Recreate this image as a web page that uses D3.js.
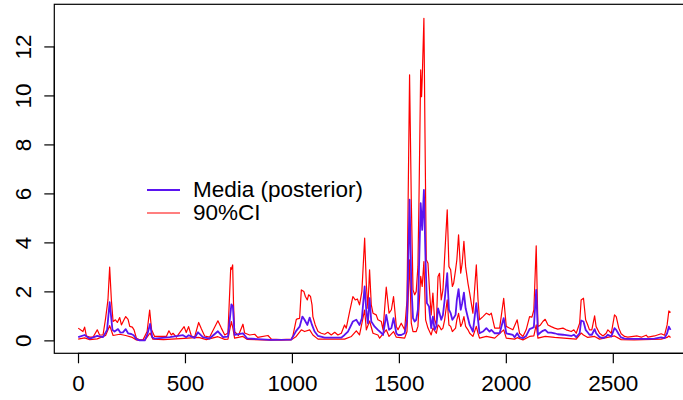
<!DOCTYPE html>
<html>
<head>
<meta charset="utf-8">
<script src="https://cdn.jsdelivr.net/npm/d3@7"></script>
<style>
  html, body { margin: 0; padding: 0; background: #fff; }
  svg text { font-family: "Liberation Sans", Arial, sans-serif; fill: #000; }
</style>
</head>
<body>
<div id="chart"></div>
<script>
// Posterior median with 90% credible band.
// Each series is a list of [index, value] knots.

const median = [
  [1,0.13],[31,0.22],[55,0.07],[90,0.18],[117,0.13],[136,0.43],[148,1.56],[161,0.43],
  [171,0.36],[187,0.46],[198,0.32],[210,0.33],[223,0.46],[234,0.29],[249,0.26],[260,0.21],
  [273,0.05],[288,0.0],[312,0.0],[323,0.21],[337,0.67],[347,0.13],[358,0.075],[429,0.13],
  [491,0.21],[506,0.13],[517,0.21],[545,0.1],[561,0.33],[584,0.13],[615,0.075],[654,0.37],
  [678,0.13],[701,0.15],[717,1.47],[724,1.38],[732,0.22],[771,0.29],[790,0.08],[840,0.05],
  [900,0.02],[997,0.03],[1020,0.39],[1036,0.56],[1049,0.97],[1059,0.84],[1072,0.63],[1083,0.93],
  [1094,0.63],[1106,0.36],[1122,0.18],[1153,0.11],[1231,0.11],[1246,0.22],[1262,0.36],[1285,0.77],
  [1301,0.84],[1316,0.63],[1327,0.90],[1340,2.20],[1348,1.18],[1355,0.70],[1363,1.72],[1371,0.77],
  [1387,0.56],[1402,0.43],[1418,0.30],[1426,0.22],[1441,1.04],[1454,0.43],[1465,0.5],[1475,0.91],
  [1488,0.29],[1496,0.22],[1511,0.22],[1527,0.29],[1538,0.84],[1550,5.74],[1558,2.33],[1566,0.91],
  [1574,0.77],[1581,0.84],[1589,1.25],[1602,5.6],[1609,4.51],[1617,6.14],[1625,3.15],[1631,1.52],
  [1641,1.38],[1651,0.5],[1659,0.97],[1667,0.43],[1675,0.57],[1683,1.31],[1690,1.11],[1698,0.84],
  [1706,1.04],[1714,1.65],[1726,2.74],[1734,1.25],[1742,1.11],[1750,0.84],[1756,0.91],[1765,1.04],
  [1771,1.65],[1779,2.09],[1789,1.25],[1796,1.52],[1804,1.95],[1812,1.31],[1823,0.91],[1831,0.63],
  [1846,0.36],[1862,1.52],[1870,0.84],[1877,0.29],[1893,0.36],[1909,0.50],[1924,0.36],[1932,0.43],
  [1948,0.29],[1971,0.29],[1990,0.91],[2002,0.29],[2033,0.22],[2041,0.13],[2053,0.29],[2064,0.13],
  [2080,0.09],[2095,0.18],[2111,0.46],[2122,0.50],[2131,0.54],[2142,2.06],[2150,0.23],[2162,0.32],
  [2173,0.39],[2184,0.43],[2197,0.32],[2212,0.32],[2228,0.29],[2243,0.25],[2267,0.23],[2282,0.21],
  [2306,0.18],[2318,0.23],[2329,0.13],[2345,0.29],[2352,0.81],[2363,0.77],[2373,0.43],[2383,0.32],
  [2391,0.23],[2402,0.23],[2415,0.46],[2422,0.29],[2438,0.13],[2454,0.09],[2469,0.16],[2477,0.23],
  [2493,0.16],[2508,0.50],[2516,0.43],[2528,0.25],[2539,0.12],[2555,0.075],[2570,0.06],[2664,0.06],
  [2695,0.075],[2726,0.12],[2742,0.09],[2754,0.29],[2762,0.56],[2770,0.43]
];

const upper = [
  [1,0.50],[23,0.36],[31,0.54],[39,0.18],[55,0.13],[70,0.13],[90,0.43],[101,0.22],[117,0.22],
  [129,0.9],[140,1.65],[148,2.99],[156,1.65],[164,0.77],[175,0.84],[184,0.73],[195,0.93],[203,0.63],
  [215,0.84],[223,0.97],[234,0.86],[242,0.57],[254,0.54],[262,0.43],[273,0.09],[288,0.02],[304,0.02],
  [323,0.36],[335,1.24],[344,0.43],[358,0.16],[382,0.16],[413,0.16],[425,0.39],[436,0.22],[444,0.29],
  [460,0.13],[496,0.56],[506,0.32],[517,0.56],[530,0.18],[545,0.13],[564,0.73],[577,0.46],[592,0.18],
  [615,0.13],[654,0.80],[670,0.50],[686,0.22],[701,0.30],[714,2.97],[717,2.9],[723,3.08],[727,1.5],
  [732,0.36],[750,0.2],[771,0.66],[779,0.3],[802,0.22],[826,0.25],[840,0.12],[888,0.2],[904,0.05],
  [950,0.03],[997,0.05],[1005,0.2],[1020,0.84],[1025,0.88],[1036,0.90],[1044,2.06],[1056,1.99],
  [1063,1.79],[1072,1.65],[1078,1.86],[1087,1.79],[1094,1.45],[1098,0.97],[1109,0.63],[1122,0.36],
  [1137,0.29],[1153,0.25],[1168,0.33],[1184,0.22],[1200,0.33],[1215,0.22],[1231,0.29],[1246,0.63],
  [1254,0.50],[1270,1.18],[1285,1.79],[1296,1.65],[1306,1.69],[1316,1.45],[1327,1.99],[1340,4.17],
  [1348,2.26],[1355,1.31],[1363,2.88],[1371,1.45],[1379,1.11],[1394,1.04],[1402,0.84],[1418,0.77],
  [1426,0.43],[1441,2.17],[1454,1.11],[1465,1.25],[1475,1.79],[1488,0.57],[1496,0.43],[1511,0.70],
  [1527,0.43],[1538,1.65],[1550,10.84],[1558,5.74],[1566,2.06],[1574,1.86],[1581,1.99],[1589,3.01],
  [1594,5.74],[1602,11.04],[1606,9.95],[1609,10.63],[1617,13.15],[1622,8.46],[1628,3.29],[1636,3.15],
  [1644,1.93],[1651,1.04],[1659,1.93],[1667,0.84],[1675,0.63],[1683,2.61],[1690,2.74],[1698,1.65],
  [1706,2.06],[1714,3.42],[1726,5.33],[1734,3.01],[1742,2.88],[1750,2.2],[1756,2.33],[1765,2.88],
  [1771,3.29],[1779,4.31],[1789,2.74],[1796,3.15],[1804,4.04],[1812,3.01],[1823,2.33],[1831,1.93],
  [1846,1.11],[1862,3.08],[1870,1.65],[1877,0.84],[1893,0.97],[1909,1.11],[1924,1.04],[1932,1.11],
  [1948,0.50],[1971,0.50],[1990,1.72],[2002,0.57],[2033,0.43],[2053,0.84],[2064,0.29],[2080,0.16],
  [2095,0.43],[2111,0.97],[2122,0.95],[2131,1.24],[2142,3.86],[2150,0.56],[2162,0.63],[2173,0.77],
  [2184,0.86],[2197,0.63],[2212,0.56],[2228,0.50],[2243,0.46],[2267,0.50],[2282,0.43],[2306,0.36],
  [2318,0.43],[2329,0.29],[2345,0.70],[2352,1.65],[2363,1.72],[2373,0.84],[2383,0.63],[2391,0.43],
  [2402,0.43],[2415,1.0],[2422,0.56],[2438,0.29],[2454,0.18],[2469,0.29],[2477,0.43],[2493,0.29],
  [2508,1.04],[2516,0.97],[2528,0.50],[2539,0.27],[2555,0.16],[2570,0.13],[2614,0.18],[2633,0.13],
  [2656,0.21],[2664,0.13],[2695,0.18],[2726,0.27],[2742,0.21],[2754,0.63],[2762,1.20],[2770,1.14]
];

const lower = [
  [1,0.05],[31,0.1],[55,0.03],[90,0.06],[129,0.2],[148,0.6],[164,0.2],[195,0.25],[223,0.2],
  [254,0.12],[273,0.02],[288,0.0],[312,0.0],[337,0.3],[350,0.05],[400,0.03],[496,0.08],[564,0.12],
  [600,0.03],[654,0.15],[686,0.04],[701,0.05],[717,0.77],[724,0.5],[732,0.09],[771,0.16],[790,0.04],
  [900,0.01],[997,0.02],[1020,0.16],[1044,0.43],[1059,0.36],[1083,0.43],[1098,0.22],[1122,0.05],
  [1246,0.05],[1278,0.16],[1301,0.39],[1316,0.22],[1340,1.24],[1348,0.43],[1363,0.79],[1379,0.29],
  [1402,0.22],[1410,0.09],[1441,0.43],[1454,0.16],[1475,0.36],[1488,0.13],[1527,0.09],[1538,0.36],
  [1550,3.29],[1558,0.70],[1566,0.36],[1581,0.36],[1589,0.57],[1602,2.61],[1609,2.2],[1617,3.22],
  [1625,0.84],[1636,0.50],[1651,0.22],[1659,0.50],[1675,0.29],[1683,0.63],[1690,0.57],[1698,0.43],
  [1706,0.50],[1714,0.84],[1726,1.65],[1734,0.63],[1742,0.57],[1750,0.36],[1765,0.5],[1771,0.84],
  [1779,1.1],[1789,0.57],[1796,0.70],[1804,0.97],[1812,0.57],[1823,0.43],[1831,0.29],[1846,0.16],
  [1862,0.57],[1870,0.29],[1877,0.09],[1909,0.16],[1948,0.09],[1990,0.43],[2002,0.09],[2041,0.05],
  [2053,0.11],[2080,0.02],[2111,0.16],[2131,0.18],[2142,0.63],[2150,0.09],[2184,0.16],[2228,0.12],
  [2329,0.05],[2352,0.30],[2363,0.22],[2383,0.12],[2415,0.16],[2438,0.05],[2508,0.18],[2539,0.03],
  [2600,0.02],[2726,0.05],[2754,0.12],[2762,0.18],[2770,0.12]
];

const xTicks = [0, 500, 1000, 1500, 2000, 2500];
const yTicks = [0, 2, 4, 6, 8, 10, 12];
const legendLabels = ["Media (posterior)", "90%CI"];

const W = 683, H = 400;
const box = {left: 54.3, right: 694.3, top: 4.3, bottom: 353.3};
const FONT = 22.5;
const BLUE = "#5a14f0", RED = "#ff0000";

const svg = d3.select("#chart").append("svg")
  .attr("width", W).attr("height", H);

// R-style 4% padded ranges
const x = d3.scaleLinear().domain([-110.8, 2881]).range([box.left, box.right]);
const y = d3.scaleLinear().domain([-0.528, 13.72]).range([box.bottom, box.top]);

svg.append("clipPath").attr("id", "plotClip")
  .append("rect")
  .attr("x", box.left).attr("y", box.top)
  .attr("width", box.right - box.left).attr("height", box.bottom - box.top);

const line = d3.line().x(d => x(d[0])).y(d => y(d[1]));
const plot = svg.append("g").attr("clip-path", "url(#plotClip)");

plot.append("path").datum(upper)
  .attr("fill", "none").attr("stroke", RED).attr("stroke-width", 1.2)
  .attr("stroke-linejoin", "round").attr("d", line);
plot.append("path").datum(lower)
  .attr("fill", "none").attr("stroke", RED).attr("stroke-width", 1.2)
  .attr("stroke-linejoin", "round").attr("d", line);
plot.append("path").datum(median)
  .attr("fill", "none").attr("stroke", BLUE).attr("stroke-width", 1.8)
  .attr("stroke-linejoin", "round").attr("d", line);

// plot frame
svg.append("rect")
  .attr("x", box.left).attr("y", box.top)
  .attr("width", box.right - box.left).attr("height", box.bottom - box.top)
  .attr("fill", "none").attr("stroke", "#000").attr("stroke-width", 1.2);

// x axis (bottom)
const xAxis = svg.append("g")
  .attr("transform", `translate(0,${box.bottom})`)
  .call(d3.axisBottom(x).tickValues(xTicks).tickFormat(d3.format("d"))
    .tickSize(10).tickPadding(12));
xAxis.select(".domain").attr("d", `M${x(0)},0H${box.right}`).attr("stroke-width", 1.2);
xAxis.selectAll(".tick line").attr("stroke-width", 1.2);
xAxis.selectAll("text").attr("font-size", FONT)
  .attr("font-family", "Liberation Sans, Arial, sans-serif");

// y axis (left), labels rotated like R's las=0
const yAxis = svg.append("g")
  .attr("transform", `translate(${box.left},0)`)
  .call(d3.axisLeft(y).tickValues(yTicks).tickSize(10).tickPadding(0));
yAxis.select(".domain").attr("d", `M0,${y(0)}V${y(12)}`).attr("stroke-width", 1.2);
yAxis.selectAll(".tick line").attr("stroke-width", 1.2);
yAxis.selectAll("text")
  .attr("x", null).attr("dy", null)
  .attr("text-anchor", "middle")
  .attr("transform", "translate(-23,0) rotate(-90)")
  .attr("font-size", FONT)
  .attr("font-family", "Liberation Sans, Arial, sans-serif");

// legend
const legend = svg.append("g").attr("transform", "translate(147,190)");
legendLabels.forEach((lab, i) => {
  const g = legend.append("g").attr("transform", `translate(0,${i * 23})`);
  g.append("line").attr("x1", 0).attr("x2", 33).attr("y1", 0).attr("y2", 0)
    .attr("stroke", i === 0 ? BLUE : RED).attr("stroke-width", i === 0 ? 1.8 : 1.2);
  g.append("text").attr("x", 46).attr("y", 0).attr("dy", "0.33em")
    .attr("font-size", FONT).text(lab);
});
</script>
</body>
</html>
